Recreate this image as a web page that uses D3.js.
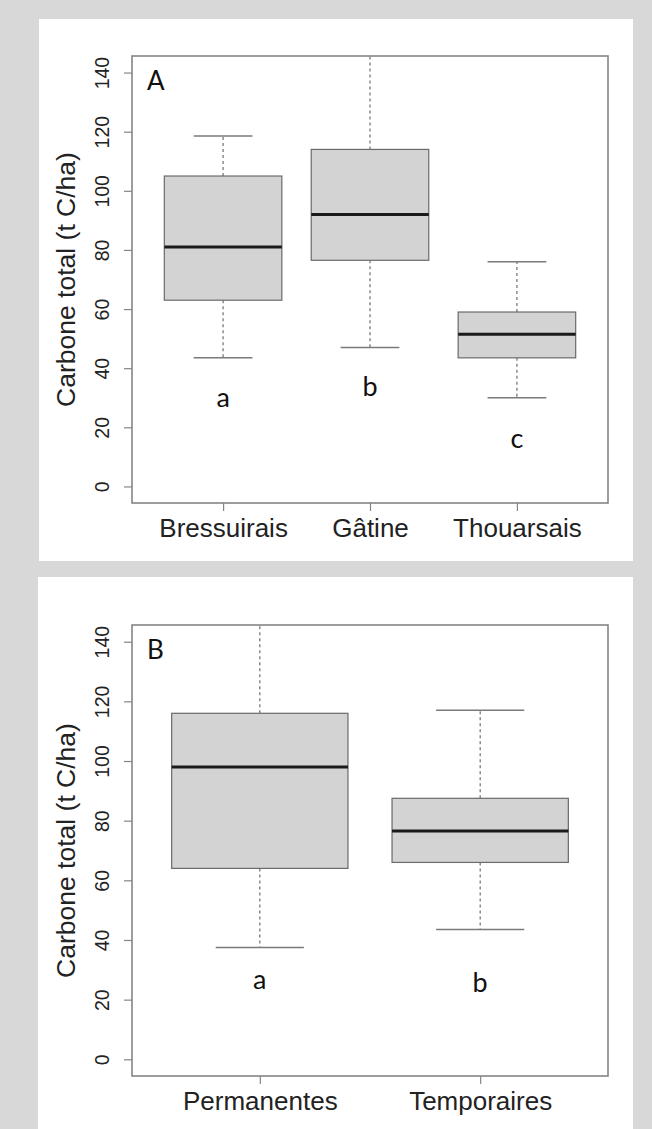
<!DOCTYPE html>
<html>
<head>
<meta charset="utf-8">
<script src="https://cdn.jsdelivr.net/npm/d3@7/dist/d3.min.js"></script>
<style>
  body { margin: 0; background: #d8d8d8; }
  svg { display: block; }
</style>
</head>
<body>
<script>
// --- data ---
var zonesA = ["Bressuirais", "Gâtine", "Thouarsais"];
var lowA    = [43.5, 47, 30];
var q1A     = [63, 76.5, 43.5];
var medA    = [81, 92, 51.5];
var q3A     = [105, 114, 59];
var highA   = [118.5, 160, 76];
var lettersA = ["a", "b", "c"];
var letterYA = [27, 30.5, 13];

var typesB = ["Permanentes", "Temporaires"];
var lowB    = [37.5, 43.5];
var q1B     = [64, 66];
var medB    = [98, 76.5];
var q3B     = [116, 87.5];
var highB   = [160, 117];
var lettersB = ["a", "b"];
var letterYB = [23.5, 22.5];

var yTicks = [0, 20, 40, 60, 80, 100, 120, 140];
var yTitle = "Carbone total (t C/ha)";

var width = 652, height = 1129;

var svg = d3.select("body").append("svg")
    .attr("width", width)
    .attr("height", height);

svg.append("rect").attr("width", width).attr("height", height).attr("fill", "#d8d8d8");

function panel(opt) {
    var g = svg.append("g");
    // white card
    g.append("rect")
        .attr("x", opt.card[0]).attr("y", opt.card[1])
        .attr("width", opt.card[2] - opt.card[0])
        .attr("height", opt.card[3] - opt.card[1])
        .attr("fill", "#ffffff");

    var left = 132, right = 608, top = opt.top, bottom = opt.bottom;
    var n = opt.cats.length;
    var pad = 0.04 * n;
    var x = d3.scaleLinear().domain([0.5 - pad, n + 0.5 + pad]).range([left, right]);
    var y = d3.scaleLinear().domain([-5.6, 145.6]).range([bottom, top]);
    var bw = x(1.4) - x(1);   // half box width (boxwex 0.8)
    var cw = x(1.2) - x(1);   // half staple width

    var clipId = "clip" + opt.name;
    svg.append("clipPath").attr("id", clipId)
        .append("rect").attr("x", left).attr("y", top)
        .attr("width", right - left).attr("height", bottom - top);

    var boxes = g.append("g").attr("clip-path", "url(#" + clipId + ")")
        .selectAll("g.box")
        .data(opt.cats.map(function (c, i) {
            return {cat: c, i: i + 1, lo: opt.low[i], q1: opt.q1[i], med: opt.med[i], q3: opt.q3[i], hi: opt.high[i]};
        }))
        .enter().append("g").attr("class", "box");

    // whiskers
    boxes.append("line")
        .attr("x1", function (d) { return x(d.i); }).attr("x2", function (d) { return x(d.i); })
        .attr("y1", function (d) { return y(d.q3); }).attr("y2", function (d) { return y(d.hi); })
        .attr("stroke", "#6e6e6e").attr("stroke-width", 1.2).attr("stroke-dasharray", "3,3");
    boxes.append("line")
        .attr("x1", function (d) { return x(d.i); }).attr("x2", function (d) { return x(d.i); })
        .attr("y1", function (d) { return y(d.q1); }).attr("y2", function (d) { return y(d.lo); })
        .attr("stroke", "#6e6e6e").attr("stroke-width", 1.2).attr("stroke-dasharray", "3,3");
    // staples
    boxes.append("line")
        .attr("x1", function (d) { return x(d.i) - cw; }).attr("x2", function (d) { return x(d.i) + cw; })
        .attr("y1", function (d) { return y(d.hi); }).attr("y2", function (d) { return y(d.hi); })
        .attr("stroke", "#7a7a7a").attr("stroke-width", 1.5);
    boxes.append("line")
        .attr("x1", function (d) { return x(d.i) - cw; }).attr("x2", function (d) { return x(d.i) + cw; })
        .attr("y1", function (d) { return y(d.lo); }).attr("y2", function (d) { return y(d.lo); })
        .attr("stroke", "#7a7a7a").attr("stroke-width", 1.5);
    // box
    boxes.append("rect")
        .attr("x", function (d) { return x(d.i) - bw; })
        .attr("width", 2 * bw)
        .attr("y", function (d) { return y(d.q3); })
        .attr("height", function (d) { return y(d.q1) - y(d.q3); })
        .attr("fill", "#d3d3d3").attr("stroke", "#6a6a6a").attr("stroke-width", 1.2);
    // median
    boxes.append("line")
        .attr("x1", function (d) { return x(d.i) - bw; }).attr("x2", function (d) { return x(d.i) + bw; })
        .attr("y1", function (d) { return y(d.med); }).attr("y2", function (d) { return y(d.med); })
        .attr("stroke", "#1a1a1a").attr("stroke-width", 3);

    // letters under boxes
    g.selectAll("text.letter")
        .data(opt.letters)
        .enter().append("text").attr("class", "letter")
        .attr("x", function (d, i) { return x(i + 1); })
        .attr("y", function (d, i) { return y(opt.letterY[i]); })
        .attr("text-anchor", "middle")
        .style("font-family", "Lato, 'Open Sans', sans-serif")
        .style("font-size", "27px")
        .attr("fill", "#111")
        .text(function (d) { return d; });

    // panel letter
    g.append("text")
        .attr("x", 147).attr("y", opt.top + 34)
        .style("font-family", "Lato, 'Open Sans', sans-serif")
        .style("font-size", "26px")
        .attr("fill", "#111")
        .text(opt.name);

    // frame
    g.append("rect")
        .attr("x", left).attr("y", top)
        .attr("width", right - left).attr("height", bottom - top)
        .attr("fill", "none").attr("stroke", "#858585").attr("stroke-width", 1.6);

    // y axis
    var yAxis = g.append("g").attr("transform", "translate(" + left + ",0)")
        .call(d3.axisLeft(y).tickValues(yTicks).tickSize(8));
    yAxis.select(".domain").remove();
    yAxis.selectAll(".tick line").attr("stroke", "#858585").attr("stroke-width", 1.2);
    yAxis.selectAll(".tick text")
        .attr("x", null).attr("dy", null)
        .attr("transform", "translate(-23,0) rotate(-90)")
        .attr("text-anchor", "middle")
        .attr("fill", "#222")
        .style("font-family", "'Liberation Sans', Arial, sans-serif")
        .style("font-size", "19.5px");

    // x axis
    var xAxis = g.append("g").attr("transform", "translate(0," + bottom + ")")
        .call(d3.axisBottom(x).tickValues(d3.range(1, n + 1)).tickSize(8)
            .tickFormat(function (d) { return opt.cats[d - 1]; }));
    xAxis.select(".domain").remove();
    xAxis.selectAll(".tick line").attr("stroke", "#858585").attr("stroke-width", 1.2);
    xAxis.selectAll(".tick text")
        .attr("y", 34).attr("dy", null)
        .attr("fill", "#222")
        .style("font-family", "'Liberation Sans', Arial, sans-serif")
        .style("font-size", "26px");

    // axis title
    g.append("text")
        .attr("transform", "translate(75," + ((top + bottom) / 2) + ") rotate(-90)")
        .attr("text-anchor", "middle")
        .attr("fill", "#222")
        .style("font-family", "'Liberation Sans', Arial, sans-serif")
        .style("font-size", "26.5px")
        .text(yTitle);
}

panel({name: "A", card: [39, 19, 633, 561], top: 56, bottom: 503,
       cats: zonesA, low: lowA, q1: q1A, med: medA, q3: q3A, high: highA,
       letters: lettersA, letterY: letterYA});

panel({name: "B", card: [38, 577, 633, 1129], top: 625, bottom: 1076,
       cats: typesB, low: lowB, q1: q1B, med: medB, q3: q3B, high: highB,
       letters: lettersB, letterY: letterYB});
</script>
</body>
</html>
